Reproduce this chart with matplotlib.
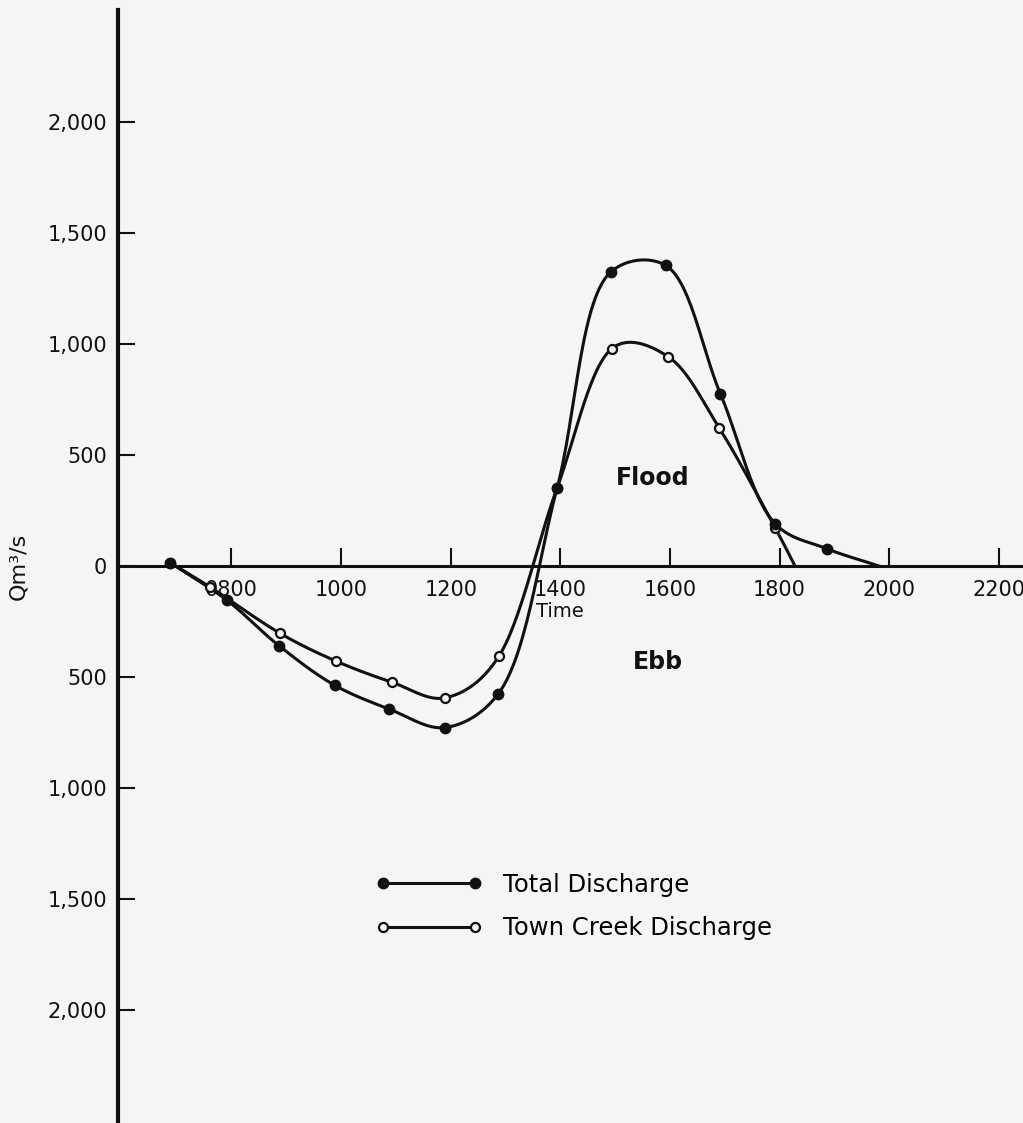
import numpy as np
import matplotlib
matplotlib.use('Agg')
import matplotlib.pyplot as plt
from matplotlib.lines import Line2D

# measured points: time of day in hours, discharge in m3/s (ebb negative)
total_time = [6.88, 7.91, 8.87, 9.88, 10.88, 11.89, 12.87, 13.94, 14.92, 15.92, 16.92, 17.92, 18.87]
total_q = [15, -153, -360, -537, -645, -728, -575, 351, 1324, 1354, 775, 190, 77]
total_end = (19.81, 0)

creek_time = [6.88, 7.61, 8.89, 9.91, 10.92, 11.90, 12.88, 13.94, 14.94, 15.97, 16.90, 17.92]
creek_q = [15, -95, -304, -429, -523, -594, -406, 351, 979, 942, 621, 171]
creek_end = (18.28, 0)

x_ticks = [8, 10, 12, 14, 16, 18, 20, 22]
x_tick_labels = ['0800', '1000', '1200', '1400', '1600', '1800', '2000', '2200']
y_ticks = [-2000, -1500, -1000, -500, 0, 500, 1000, 1500, 2000]
y_tick_labels = ['2,000', '1,500', '1,000', '500', '0', '500', '1,000', '1,500', '2,000']

BG = '#f5f5f3'
INK = '#111111'


def smooth(ax, t, q, n=30, alpha=0.5):
    # catmull-rom in screen space, close to a french-curve drawing
    pts = ax.transData.transform(np.column_stack([t, q]))
    pts = np.vstack([2 * pts[0] - pts[1], pts, 2 * pts[-1] - pts[-2]])
    out = []
    for i in range(len(pts) - 3):
        p0, p1, p2, p3 = pts[i:i + 4]
        t0 = 0.0
        t1 = t0 + np.linalg.norm(p1 - p0) ** alpha
        t2 = t1 + np.linalg.norm(p2 - p1) ** alpha
        t3 = t2 + np.linalg.norm(p3 - p2) ** alpha
        u = np.linspace(t1, t2, n)[:, None]
        a1 = (t1 - u) / (t1 - t0) * p0 + (u - t0) / (t1 - t0) * p1
        a2 = (t2 - u) / (t2 - t1) * p1 + (u - t1) / (t2 - t1) * p2
        a3 = (t3 - u) / (t3 - t2) * p2 + (u - t2) / (t3 - t2) * p3
        b1 = (t2 - u) / (t2 - t0) * a1 + (u - t0) / (t2 - t0) * a2
        b2 = (t3 - u) / (t3 - t1) * a2 + (u - t1) / (t3 - t1) * a3
        out.append((t2 - u) / (t2 - t1) * b1 + (u - t1) / (t2 - t1) * b2)
    xy = ax.transData.inverted().transform(np.vstack(out))
    return xy[:, 0], xy[:, 1]


fig = plt.figure(figsize=(10.23, 11.23), dpi=100, facecolor=BG)
ax = fig.add_axes([118 / 1023, 0, 1 - 118 / 1023, 1 - 10 / 1123])
ax.set_facecolor(BG)
ax.set_xlim(5.93, 22.44)
ax.set_ylim(-2509, 2504)

cx, cy = smooth(ax, creek_time + [creek_end[0]], creek_q + [creek_end[1]], alpha=0.3)
tx, ty = smooth(ax, total_time + [total_end[0]], total_q + [total_end[1]], alpha=0.5)

ax.plot(cx, cy, color=INK, lw=2.2, zorder=3)
ax.plot(tx, ty, color=INK, lw=2.2, zorder=3)
ax.plot(creek_time, creek_q, 'o', ms=6.5, mfc=BG, mec=INK, mew=1.6, zorder=4)
ax.plot(total_time, total_q, 'o', ms=7.5, color=INK, zorder=5)

for side in ['top', 'right']:
    ax.spines[side].set_visible(False)
ax.spines['left'].set_linewidth(3)
ax.spines['left'].set_color(INK)
ax.spines['bottom'].set_position(('data', 0))
ax.spines['bottom'].set_linewidth(2.2)
ax.spines['bottom'].set_color(INK)

ax.set_xticks(x_ticks)
ax.set_xticklabels(x_tick_labels)
ax.set_yticks(y_ticks)
ax.set_yticklabels(y_tick_labels)
ax.tick_params(axis='x', direction='in', length=13, width=1.5, pad=10, labelsize=15, colors=INK)
ax.tick_params(axis='y', direction='in', length=12, width=1.5, pad=8, labelsize=15, colors=INK)

ax.text(14.0, -203, 'Time', ha='center', va='center', fontsize=14, color=INK)
ax.text(15.69, 395, 'Flood', ha='center', va='center', fontsize=17, weight='bold', color=INK)
ax.text(15.78, -432, 'Ebb', ha='center', va='center', fontsize=17, weight='bold', color=INK)
fig.text(18 / 1023, 1 - 566 / 1123, 'Qm³/s', rotation=90, ha='center', va='center', fontsize=16, color=INK)

handles = [
    Line2D([], [], color=INK, lw=2.2, marker='o', ms=7.5),
    Line2D([], [], color=INK, lw=2.2, marker='o', ms=6.5, mfc=BG, mec=INK, mew=1.6),
]
ax.legend(handles, ['Total Discharge', 'Town Creek Discharge'], loc='upper left',
          bbox_to_anchor=(375.7 / 1023, 1 - 873 / 1123), bbox_transform=fig.transFigure,
          frameon=False, numpoints=2, fontsize=17.5, handlelength=4.39, handletextpad=0.85,
          borderpad=0, borderaxespad=0, labelspacing=0.8)

fig.savefig('out.png', dpi=100, facecolor=BG)
